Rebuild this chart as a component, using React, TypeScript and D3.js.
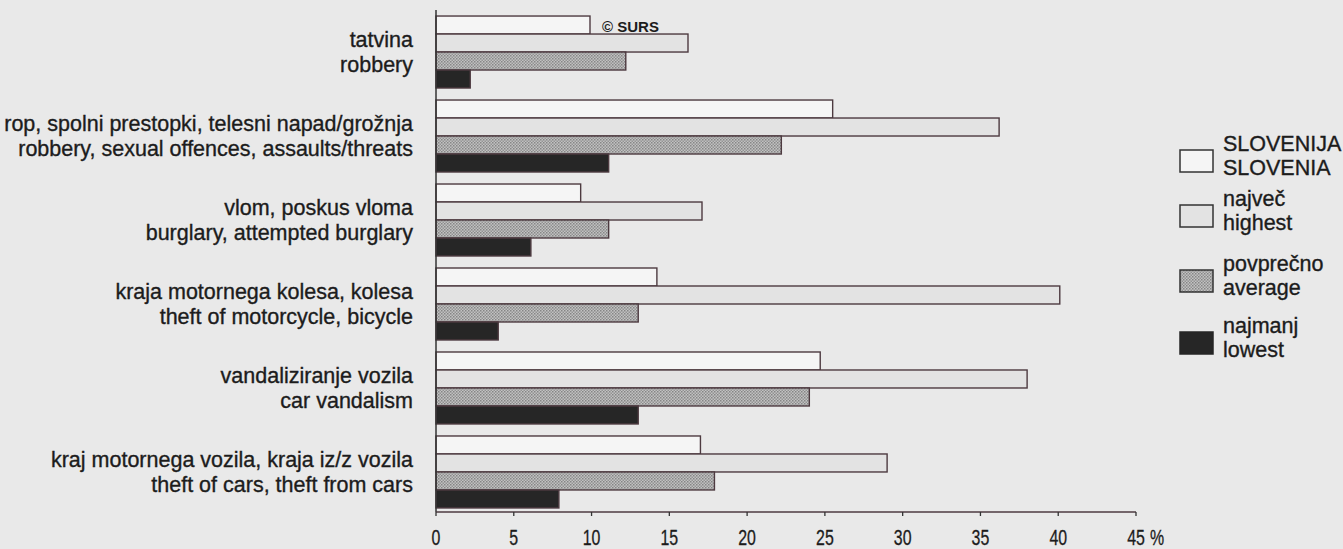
import { useEffect, useRef } from "react";
import * as d3 from "d3";

const categories = [
  ["tatvina", "robbery"],
  ["rop, spolni prestopki, telesni napad/grožnja", "robbery, sexual offences, assaults/threats"],
  ["vlom, poskus vloma", "burglary, attempted burglary"],
  ["kraja motornega kolesa, kolesa", "theft of motorcycle, bicycle"],
  ["vandaliziranje vozila", "car vandalism"],
  ["kraj motornega vozila, kraja iz/z vozila", "theft of cars, theft from cars"],
];

const seriesKeys = ["slovenia", "highest", "average", "lowest"];
const seriesLabels = [
  ["SLOVENIJA", "SLOVENIA"],
  ["največ", "highest"],
  ["povprečno", "average"],
  ["najmanj", "lowest"],
];

const slovenia = [9.9, 25.5, 9.3, 14.2, 24.7, 17.0];
const highest = [16.2, 36.2, 17.1, 40.1, 38.0, 29.0];
const average = [12.2, 22.2, 11.1, 13.0, 24.0, 17.9];
const lowest = [2.2, 11.1, 6.1, 4.0, 13.0, 7.9];

const xTicks = [0, 5, 10, 15, 20, 25, 30, 35, 40, 45];

const W = 1343;
const H = 549;
const BG = "#e9e9e9";
const INK = "#1c1c1c";
const EDGE = "#4d3a40";
const FONT = "'Liberation Sans', Arial, sans-serif";

export default function App() {
  const ref = useRef<SVGSVGElement | null>(null);

  useEffect(() => {
    const svg = d3.select(ref.current);
    svg.selectAll("*").remove();
    svg.attr("viewBox", `0 0 ${W} ${H}`).attr("width", W).attr("height", H);

    const defs = svg.append("defs");
    const pat = defs
      .append("pattern")
      .attr("id", "dots")
      .attr("width", 3)
      .attr("height", 3)
      .attr("patternUnits", "userSpaceOnUse");
    pat.append("rect").attr("width", 3).attr("height", 3).attr("fill", "#c2c2c2");
    pat.append("rect").attr("width", 1.5).attr("height", 1.5).attr("fill", "#858585");
    pat.append("rect").attr("x", 1.5).attr("y", 1.5).attr("width", 1.5).attr("height", 1.5).attr("fill", "#939393");

    const fills: Record<string, string> = {
      slovenia: "#f5f5f5",
      highest: "#e3e3e3",
      average: "url(#dots)",
      lowest: "#262626",
    };
    const values: Record<string, number[]> = { slovenia, highest, average, lowest };

    svg.append("rect").attr("width", W).attr("height", H).attr("fill", BG);

    const x = d3.scaleLinear().domain([0, 45]).range([436, 1136]);
    const y = d3
      .scaleBand<number>()
      .domain(d3.range(categories.length))
      .range([12, 512])
      .paddingInner(0.143)
      .paddingOuter(0.048);
    const ys = d3.scaleBand<string>().domain(seriesKeys).range([0, y.bandwidth()]);

    const groups = svg
      .append("g")
      .selectAll("g")
      .data(categories.map((c, i) => i))
      .join("g")
      .attr("transform", (i) => `translate(0,${y(i)})`);

    groups
      .selectAll("rect")
      .data((i) => seriesKeys.map((k) => ({ k, v: values[k][i] })))
      .join("rect")
      .attr("x", x(0))
      .attr("y", (d) => ys(d.k)!)
      .attr("width", (d) => x(d.v) - x(0))
      .attr("height", ys.bandwidth())
      .attr("fill", (d) => fills[d.k])
      .attr("stroke", EDGE)
      .attr("stroke-width", 1.4);

    // category labels
    const labels = svg
      .append("g")
      .attr("font-family", FONT)
      .attr("font-size", 21.5)
      .attr("fill", INK)
      .attr("stroke", INK)
      .attr("stroke-width", 0.35)
      .attr("text-anchor", "end");
    categories.forEach((c, i) => {
      const cy = y(i)! + y.bandwidth() / 2;
      labels.append("text").attr("x", 413).attr("y", cy - 12.5).attr("dy", "0.35em").text(c[0]);
      labels.append("text").attr("x", 413).attr("y", cy + 12.5).attr("dy", "0.35em").text(c[1]);
    });

    // axes
    svg
      .append("line")
      .attr("x1", x(0))
      .attr("x2", x(0))
      .attr("y1", 10)
      .attr("y2", 512)
      .attr("stroke", "#333")
      .attr("stroke-width", 1.5);

    const xAxis = svg.append("g").attr("transform", "translate(0,512)");
    xAxis
      .append("line")
      .attr("x1", x(0))
      .attr("x2", x(45))
      .attr("stroke", EDGE)
      .attr("stroke-width", 1.5);
    xAxis
      .selectAll("line.tick")
      .data(xTicks)
      .join("line")
      .attr("class", "tick")
      .attr("x1", (d) => x(d))
      .attr("x2", (d) => x(d))
      .attr("y1", 0)
      .attr("y2", 4)
      .attr("stroke", "#333")
      .attr("stroke-width", 1.3);
    const tickText = xAxis
      .append("g")
      .attr("font-family", FONT)
      .attr("font-size", 21.5)
      .attr("fill", INK)
      .attr("stroke", INK)
      .attr("stroke-width", 0.3);
    tickText
      .selectAll("text")
      .data(xTicks)
      .join("text")
      .attr("transform", (d) => `translate(${x(d)},25) scale(0.74,1)`)
      .attr("dy", "0.36em")
      .attr("text-anchor", "middle")
      .text((d) => String(d));
    tickText
      .append("text")
      .attr("transform", `translate(${x(45) + 14},25) scale(0.74,1)`)
      .attr("dy", "0.36em")
      .text("%");

    // credit
    svg
      .append("text")
      .attr("x", 602)
      .attr("y", 27)
      .attr("dy", "0.35em")
      .attr("font-family", FONT)
      .attr("font-size", 15)
      .attr("font-weight", 700)
      .attr("fill", INK)
      .text("© SURS");

    // legend
    const legend = svg
      .append("g")
      .attr("font-family", FONT)
      .attr("font-size", 21.5)
      .attr("fill", INK)
      .attr("stroke", INK)
      .attr("stroke-width", 0.35);
    const legendY = [150, 205, 270, 332];
    seriesKeys.forEach((k, i) => {
      const g = legend.append("g").attr("transform", `translate(1180,${legendY[i]})`);
      g.append("rect")
        .attr("width", 33)
        .attr("height", 22)
        .attr("fill", fills[k])
        .attr("stroke", k === "lowest" ? "#262626" : "#333")
        .attr("stroke-width", 1.5);
      g.append("text").attr("x", 43).attr("y", -7).attr("dy", "0.35em").text(seriesLabels[i][0]);
      g.append("text").attr("x", 43).attr("y", 17).attr("dy", "0.35em").text(seriesLabels[i][1]);
    });
  }, []);

  return (
    <div style={{ position: "fixed", left: 0, top: 0, width: W, height: H, background: BG }}>
      <svg ref={ref} style={{ display: "block" }} />
    </div>
  );
}
